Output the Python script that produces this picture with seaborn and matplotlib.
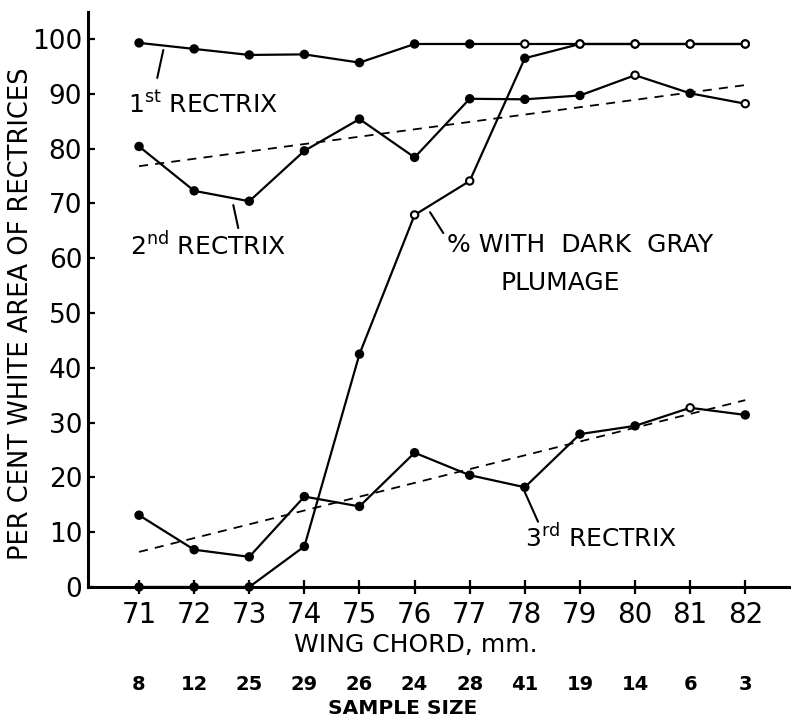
import numpy as np
import pandas as pd
import matplotlib
matplotlib.use("Agg")
import matplotlib.pyplot as plt
import matplotlib.transforms as mtransforms
import seaborn as sns

# -----------------------------
# Data
# -----------------------------
wing_chord = [71, 72, 73, 74, 75, 76, 77, 78, 79, 80, 81, 82]
sample_size = [8, 12, 25, 29, 26, 24, 28, 41, 19, 14, 6, 3]

first_rectrix = [99.3, 98.2, 97.1, 97.2, 95.7, 99.1, 99.1, 99.1, 99.1, 99.1, 99.1, 99.1]
second_rectrix = [80.4, 72.3, 70.4, 79.6, 85.4, 78.4, 89.1, 89.0, 89.7, 93.4, 90.1, 88.2]
third_rectrix = [13.1, 6.8, 5.5, 16.5, 14.7, 24.5, 20.4, 18.2, 27.9, 29.4, 32.7, 31.4]
dark_gray_pct = [0.0, 0.0, 0.0, 7.4, 42.5, 67.9, 74.1, 96.5, 99.1, 99.1, 99.1, 99.1]

# marker style of each point as drawn (filled dot / open circle)
first_fill = ['filled'] * 7 + ['open'] * 5
second_fill = ['filled'] * 9 + ['open', 'filled', 'open']
third_fill = ['filled'] * 10 + ['open', 'filled']
dark_gray_fill = ['filled'] * 5 + ['open', 'open', 'filled'] + ['open'] * 4

trend_x = [71, 82]
trend_second = [76.8, 91.6]
trend_third = [6.4, 34.1]

y_ticks = [0, 10, 20, 30, 40, 50, 60, 70, 80, 90, 100]

# -----------------------------
# Plot
# -----------------------------
sns.set_style("ticks")
plt.rcParams['font.family'] = ['DejaVu Sans']
plt.rcParams['mathtext.fontset'] = 'dejavusans'
for k in ('text.color', 'axes.labelcolor', 'xtick.color', 'ytick.color', 'axes.edgecolor'):
    plt.rcParams[k] = 'black'

fig = plt.figure(figsize=(7.91, 7.18), dpi=100)
ax = fig.add_axes([0.111, 0.1825, 0.889, 0.8005])

series = [
    (first_rectrix, first_fill),
    (second_rectrix, second_fill),
    (third_rectrix, third_fill),
    (dark_gray_pct, dark_gray_fill),
]
for vals, fill in series:
    d = pd.DataFrame({'x': wing_chord, 'y': vals, 'fill': fill})
    sns.lineplot(data=d, x='x', y='y', ax=ax, color='black', linewidth=1.6)
    sns.scatterplot(data=d, x='x', y='y', hue='fill', ax=ax,
                    palette={'filled': 'black', 'open': 'white'},
                    edgecolor='black', linewidth=1.5, s=28, legend=False,
                    zorder=5, clip_on=False)

for t in (trend_second, trend_third):
    sns.lineplot(x=trend_x, y=t, ax=ax, color='black', linewidth=1.3,
                 linestyle=(0, (5, 4)))

ax.set_xlim(70.07, 82.83)
ax.set_ylim(0, 104.9)
ax.set_xticks(wing_chord)
ax.set_xticklabels([str(v) for v in wing_chord], fontsize=20)
ax.set_yticks(y_ticks)
ax.set_yticklabels([str(v) for v in y_ticks], fontsize=19)
ax.tick_params(axis='x', direction='inout', length=10, width=1.6, pad=5)
ax.tick_params(axis='y', direction='in', length=5, width=1.6, pad=4)
sns.despine(ax=ax)
for s in ('left', 'bottom'):
    ax.spines[s].set_linewidth(2.2)
ax.set_xlabel("")
ax.set_ylabel("")

fig.text(416 / 791, 1 - 645 / 718, "WING CHORD, mm.", ha='center',
         va='center', fontsize=18)
fig.text(21 / 791, 1 - 314 / 718, "PER CENT WHITE AREA OF RECTRICES",
         rotation=90, ha='center', va='center', fontsize=18.5)

# Series labels with leader lines
lbl = dict(fontsize=18, color='black', ha='left', va='baseline')
ax.text(70.8, 86.5, r"1$^{\mathrm{st}}$ RECTRIX", **lbl)
ax.plot([71.44, 71.33], [98.0, 92.9], color='black', linewidth=1.5)

ax.text(70.84, 60.6, r"2$^{\mathrm{nd}}$ RECTRIX", **lbl)
ax.plot([72.71, 72.80], [69.7, 65.5], color='black', linewidth=1.5)

ax.text(76.59, 61.1, "% WITH  DARK  GRAY", **lbl)
ax.text(77.55, 54.2, "PLUMAGE", **lbl)
ax.plot([76.28, 76.52], [68.4, 64.6], color='black', linewidth=1.5)

ax.text(78.0, 7.3, r"3$^{\mathrm{rd}}$ RECTRIX", **lbl)
ax.plot([78.0, 78.24], [17.3, 11.9], color='black', linewidth=1.5)

# Sample size row under the axis
trans = mtransforms.blended_transform_factory(ax.transData, fig.transFigure)
for x, n in zip(wing_chord, sample_size):
    ax.text(x, 1 - 685 / 718, str(n), transform=trans, ha='center',
            va='center', fontsize=14, fontweight='bold')
fig.text(403 / 791, 1 - 708 / 718, "SAMPLE SIZE", ha='center',
         va='center', fontsize=14.5, fontweight='bold')

fig.savefig("out.png", dpi=100)
